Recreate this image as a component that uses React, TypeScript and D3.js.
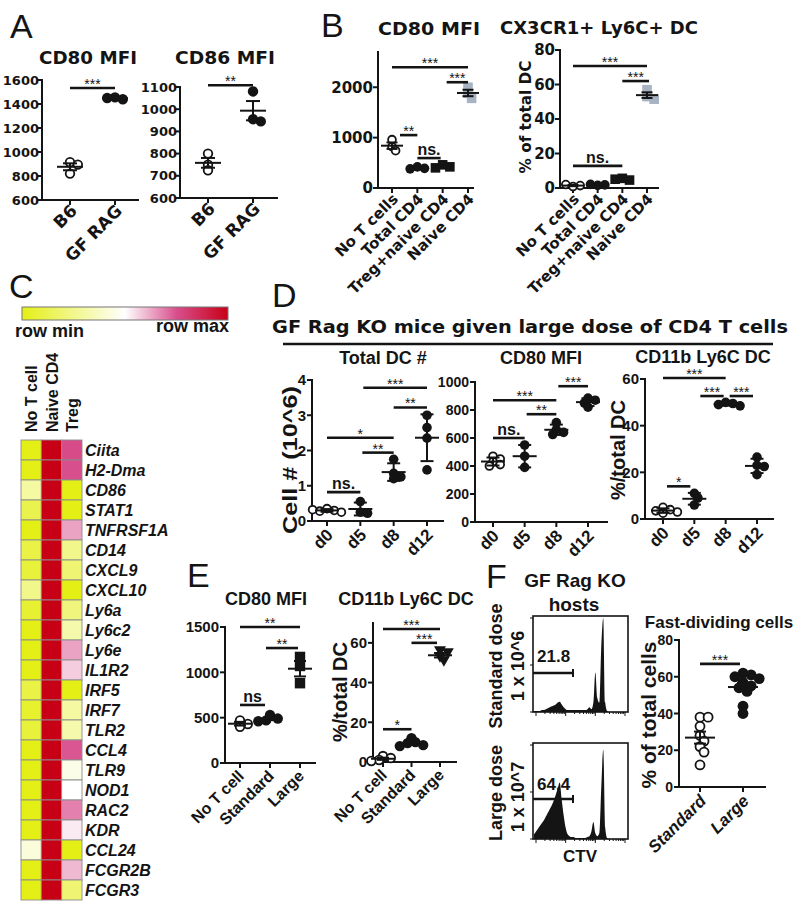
import React from "react";
import * as d3 from "d3";

type Sig = [number, number, number, string, number?, number?];
type Marker = "open" | "dot" | "square" | "gray" | "itri";

const DV = "'DejaVu Sans', Verdana, sans-serif";
const LS = "'Liberation Sans', Arial, Helvetica, sans-serif";
const INK = "#141414";
const GRAY = "#a7b3c2";

// ---------------- Panel A ----------------
const aCats = ["B6", "GF RAG"];
const aCd80Values = [[915, 895, 820], [1455, 1440, 1450]];
const aCd80Ticks = [600, 800, 1000, 1200, 1400, 1600];
const aCd80Sig: Sig[] = [[0, 1, 1533, "***"]];
const aCd86Values = [[800, 750, 725], [1080, 955, 945]];
const aCd86Ticks = [600, 700, 800, 900, 1000, 1100];
const aCd86Sig: Sig[] = [[0, 1, 1108, "**"]];

// ---------------- Panel B ----------------
const bCats = ["No T cells", "Total CD4", "Treg+naive CD4", "Naive CD4"];
const bCd80Values = [[960, 820, 740], [420, 390, 380], [460, 420, 400], [2000, 1880, 1780]];
const bCd80Ticks = [0, 1000, 2000];
const bCd80Sig: Sig[] = [[0, 3, 2396, "***"], [2, 3, 2100, "***", 4, 0], [0, 1, 1050, "**", 8, 0], [1, 2, 594, "ns.", 0, -2]];
const bCx3Values = [[0.8, 1.4, 2], [1.5, 1.8, 2.1], [5.6, 4.6, 5.1], [57, 53, 51.5]];
const bCx3Ticks = [0, 20, 40, 60, 80];
const bCx3Sig: Sig[] = [[0, 3, 70.7, "***"], [2, 3, 62, "***", 0, 2], [0, 2, 12.8, "ns."]];

// ---------------- Panel C ----------------
const cColumns = ["No T cell", "Naive CD4", "Treg"];
const cGenes = ["Ciita", "H2-Dma", "CD86", "STAT1", "TNFRSF1A", "CD14", "CXCL9", "CXCL10", "Ly6a", "Ly6c2", "Ly6e", "IL1R2", "IRF5", "IRF7", "TLR2", "CCL4", "TLR9", "NOD1", "RAC2", "KDR", "CCL24", "FCGR2B", "FCGR3"];
const cNoTCell = [0, 0, 0.3, 0.12, 0, 0.1, 0.08, 0.25, 0.06, 0, 0, 0, 0.1, 0.05, 0.08, 0, 0, 0, 0, 0, 0.42, 0, 0];
const cNaiveCD4 = [1, 1, 1, 1, 1, 1, 1, 1, 1, 1, 1, 1, 1, 1, 1, 1, 1, 1, 1, 1, 1, 1, 1];
const cTreg = [0.76, 0.75, 0, 0, 0.63, 0.25, 0.2, 0, 0.22, 0.32, 0.63, 0.57, 0, 0.3, 0.32, 0.74, 0.45, 0.5, 0.68, 0.53, 0, 0.6, 0.2];
const cScaleLabels = ["row min", "row max"];

// ---------------- Panel D ----------------
const dTitle = "GF Rag KO mice given large dose of CD4 T cells";
const dCats = ["d0", "d5", "d8", "d12"];
const dTotalValues = [[0.35, 0.3, 0.28, 0.25, 0.32], [0.55, 0.25, 0.22], [1.75, 1.35, 1.25, 1.2], [3.0, 2.65, 2.35, 1.45]];
const dTotalTicks = [0, 1, 2, 3, 4];
const dTotalSig: Sig[] = [[0, 1, 0.82, "ns."], [0, 2, 2.36, "*"], [1, 2, 1.94, "**", 2, 0], [1, 3, 3.78, "***", 3, 0], [2, 3, 3.22, "**", 0, 0]];
const dCd80Values = [[470, 450, 430, 410, 400], [550, 470, 390], [710, 660, 640, 625], [885, 870, 850, 820]];
const dCd80Ticks = [0, 200, 400, 600, 800, 1000];
const dCd80Sig: Sig[] = [[0, 1, 600, "ns."], [0, 2, 870, "***"], [1, 2, 770, "**", 2, 0], [2, 3, 970, "***", 2, 0]];
const dLy6cValues = [[5, 4, 3.5, 3, 2.5], [11, 9, 6], [50, 49.5, 49, 48.5], [26.5, 23, 22.5, 19]];
const dLy6cTicks = [0, 20, 40, 60];
const dLy6cSig: Sig[] = [[0, 2, 60.4, "***"], [1, 2, 52.7, "***", 6, -2], [2, 3, 52.7, "***", 4, -4], [0, 1, 14, "*", 4, -4]];

// ---------------- Panel E ----------------
const eCats = ["No T cell", "Standard", "Large"];
const eCd80Values = [[470, 430, 400], [530, 490, 470, 460], [1170, 1070, 880]];
const eCd80Ticks = [0, 500, 1000, 1500];
const eCd80Sig: Sig[] = [[0, 2, 1500, "**"], [1, 2, 1268, "**", -4, -2], [0, 1, 640, "ns", 0, -5]];
const eLy6cValues = [[3, 2, 1, 0.5], [12, 10, 9.5, 8.5, 8], [56, 55, 53, 51]];
const eLy6cTicks = [0, 20, 40, 60];
const eLy6cSig: Sig[] = [[0, 2, 67, "***"], [1, 2, 60, "***", 0, -3], [0, 1, 16.5, "*"]];

// ---------------- Panel F ----------------
const fCats = ["Standard", "Large"];
const fValues = [[38, 38, 33, 28, 25, 22, 19, 12], [62, 61, 60, 59, 57, 55, 54, 52, 44, 40]];
const fTicks = [0, 20, 40, 60, 80];
const fSig: Sig[] = [[0, 1, 67, "***", 0, -3]];
const fHistStandard = [
  1, 1, 1, 1, 2, 2, 3, 4, 5, 6,
  7, 8, 10, 11, 8, 5, 3, 2, 2, 2,
  2, 2, 2, 2, 2, 2, 2, 3, 5, 3,
  10, 42, 15, 10, 70, 100, 10, 1, 0, 0,
  0, 0, 0, 0, 0, 0, 0, 0,
];
const fHistLarge = [
  5, 8, 11, 14, 17, 20, 24, 28, 32, 36,
  41, 47, 54, 60, 42, 25, 12, 5, 3, 2,
  2, 1, 1, 1, 1, 1, 1, 2, 3, 8,
  18, 6, 3, 6, 55, 95, 12, 1, 0, 0,
  0, 0, 0, 0, 0, 0, 0, 0,
];
const fGateLabels = ["21.8", "64.4"];

// ---------------- helpers ----------------
function dodge(ys: number[], r: number): number[] {
  const placed: [number, number][] = [];
  return ys.map((py) => {
    const offs = [0];
    for (let i = 1; i < 12; i++) offs.push(i * r * 0.75, -i * r * 0.75);
    let dx = 0;
    for (const o of offs) {
      if (placed.every(([px, qy]) => Math.hypot(px - o, qy - py) >= r * 1.05)) {
        dx = o;
        break;
      }
    }
    placed.push([dx, py]);
    return dx;
  });
}

function MarkerShape({ m, cx, cy, r }: { m: Marker; cx: number; cy: number; r: number }) {
  if (m === "open") return <circle cx={cx} cy={cy} r={r - 0.9} fill="#fff" stroke={INK} strokeWidth={1.8} />;
  if (m === "dot") return <circle cx={cx} cy={cy} r={r} fill={INK} />;
  if (m === "square" || m === "gray")
    return <rect x={cx - r} y={cy - r} width={2 * r} height={2 * r} fill={m === "gray" ? GRAY : INK} />;
  const s = r * 1.15;
  return <path d={`M${cx - s},${cy - s * 0.75}L${cx + s},${cy - s * 0.75}L${cx},${cy + s}Z`} fill={INK} />;
}

interface PlotProps {
  cats: string[];
  values: number[][];
  ticks: number[];
  domain: [number, number];
  axisX: number;
  axisY: number;
  topY: number;
  xEnd: number;
  catRange: [number, number];
  markers: Marker[];
  r: number;
  err: "sd" | "sem";
  sig: Sig[];
  meanW: number;
  capW: number;
  tickFamily: string;
  tickSize: number;
  tickGap?: number;
  labelFamily: string;
  labelSize: number;
  labelItalic?: boolean;
  labelDx?: number;
  labelDy?: number;
}

function DotPlot(p: PlotProps) {
  const y = d3.scaleLinear().domain(p.domain).range([p.axisY, p.topY]);
  const x = d3.scalePoint<string>().domain(p.cats).range(p.catRange);
  const ldx = p.labelDx ?? 7;
  const ldy = p.labelDy ?? 13;
  const gap = p.tickGap ?? 6;
  return (
    <g>
      <line x1={p.axisX} x2={p.axisX} y1={p.axisY} y2={y(p.domain[1])} stroke={INK} strokeWidth={2} strokeLinecap="square" />
      <line x1={p.axisX} x2={p.xEnd} y1={p.axisY} y2={p.axisY} stroke={INK} strokeWidth={2} strokeLinecap="square" />
      {p.ticks.map((t) => (
        <g key={t}>
          <line x1={p.axisX - 5} x2={p.axisX} y1={y(t)} y2={y(t)} stroke={INK} strokeWidth={2} />
          <text x={p.axisX - gap} y={y(t)} dy="0.36em" textAnchor="end" fontFamily={p.tickFamily} fontWeight="bold" fontSize={p.tickSize} fill={INK}>
            {t}
          </text>
        </g>
      ))}
      {p.cats.map((c) => {
        const cx = x(c) as number;
        return (
          <g key={c}>
            <line x1={cx} x2={cx} y1={p.axisY} y2={p.axisY + 5} stroke={INK} strokeWidth={2} />
            <text
              transform={`translate(${cx + ldx},${p.axisY + ldy}) rotate(-45)`}
              textAnchor="end"
              fontFamily={p.labelFamily}
              fontWeight="bold"
              fontStyle={p.labelItalic ? "italic" : "normal"}
              fontSize={p.labelSize}
              fill={INK}
            >
              {c}
            </text>
          </g>
        );
      })}
      {p.values.map((vals, gi) => {
        const cx = x(p.cats[gi]) as number;
        const ys = vals.map((v) => y(v));
        const dxs = dodge(ys, p.r);
        const mean = d3.mean(vals) as number;
        const sd = d3.deviation(vals) as number;
        const e = p.err === "sem" ? sd / Math.sqrt(vals.length) : sd;
        return (
          <g key={gi}>
            {vals.map((v, i) => (
              <MarkerShape key={i} m={p.markers[gi]} cx={cx + dxs[i]} cy={ys[i]} r={p.r} />
            ))}
            <line x1={cx - p.meanW / 2} x2={cx + p.meanW / 2} y1={y(mean)} y2={y(mean)} stroke={INK} strokeWidth={2} />
            <line x1={cx} x2={cx} y1={y(mean - e)} y2={y(mean + e)} stroke={INK} strokeWidth={2} />
            <line x1={cx - p.capW / 2} x2={cx + p.capW / 2} y1={y(mean - e)} y2={y(mean - e)} stroke={INK} strokeWidth={2} />
            <line x1={cx - p.capW / 2} x2={cx + p.capW / 2} y1={y(mean + e)} y2={y(mean + e)} stroke={INK} strokeWidth={2} />
          </g>
        );
      })}
      {p.sig.map((s, k) => {
        const [i, j, v, lab, d1, d2] = s;
        const x1 = (x(p.cats[i]) as number) + (d1 ?? 0);
        const x2 = (x(p.cats[j]) as number) + (d2 ?? 0);
        const yy = y(v);
        const star = lab.includes("*");
        return (
          <g key={k}>
            <line x1={x1} x2={x2} y1={yy} y2={yy} stroke={INK} strokeWidth={2.6} />
            <text
              x={(x1 + x2) / 2}
              y={star ? yy + 1 : yy - 3}
              textAnchor="middle"
              fontFamily={LS}
              fontWeight={star ? "normal" : "bold"}
              fontSize={star ? 14 : 16}
              fill={INK}
            >
              {lab}
            </text>
          </g>
        );
      })}
    </g>
  );
}

function Histogram({ counts, x0, x1, y0, y1, gateY, gateEnd, label, labelY }: {
  counts: number[]; x0: number; x1: number; y0: number; y1: number; gateY: number; gateEnd: number; label: string; labelY: number;
}) {
  const x = d3.scaleLinear().domain([0, counts.length - 1]).range([x0 + 1, x1 - 1]);
  const y = d3.scaleLinear().domain([0, 100]).range([y1, y0 + 2]);
  const area = d3.area<number>().x((_, i) => x(i)).y0(y1).y1((d) => y(d)).curve(d3.curveMonotoneX);
  const ctv = d3.scaleLog().domain([100, 100000]).range([x0 + 3, x1 - 3]);
  const ticks = ctv.ticks();
  return (
    <g>
      <path d={area(counts) || ""} fill={INK} />
      <rect x={x0} y={y0} width={x1 - x0} height={y1 - y0} fill="none" stroke={INK} strokeWidth={1.6} />
      {ticks.map((t, k) => {
        const major = Math.abs(Math.log10(t) - Math.round(Math.log10(t))) < 1e-6;
        return <line key={k} x1={ctv(t)} x2={ctv(t)} y1={y1} y2={y1 + (major ? 4 : 2)} stroke={INK} strokeWidth={1} />;
      })}
      {[0, 50, 100].map((t) => (
        <line key={t} x1={x0 - 3} x2={x0} y1={y(t)} y2={y(t)} stroke={INK} strokeWidth={1} />
      ))}
      <line x1={x0} x2={gateEnd} y1={gateY} y2={gateY} stroke={INK} strokeWidth={2.4} />
      <line x1={gateEnd} x2={gateEnd} y1={gateY - 4} y2={gateY + 4} stroke={INK} strokeWidth={2} />
      <text x={x0 + 4} y={labelY} fontFamily={LS} fontWeight="bold" fontSize={17} fill={INK}>{label}</text>
    </g>
  );
}

function RotLabel({ text, cx, cy, size, family, len }: { text: string; cx: number; cy: number; size: number; family: string; len?: number }) {
  return (
    <text
      transform={`translate(${cx},${cy}) rotate(-90)`}
      textAnchor="middle"
      dy="0.36em"
      fontFamily={family}
      fontWeight="bold"
      fontSize={size}
      fill={INK}
      textLength={len}
      lengthAdjust={len ? "spacingAndGlyphs" : undefined}
    >
      {text}
    </text>
  );
}

function Heatmap() {
  const color = d3.scaleLinear<string>().domain([0, 0.5, 0.75, 1]).range(["#e4ef16", "#ffffff", "#d84f8d", "#c80016"]);
  const xb = d3.scaleBand<string>().domain(cColumns).range([21, 82]);
  const yb = d3.scaleBand<string>().domain(cGenes).range([440, 900]);
  const cols = [cNoTCell, cNaiveCD4, cTreg];
  const stops = d3.range(0, 1.0001, 0.05);
  return (
    <g>
      <defs>
        <linearGradient id="rowgrad" x1="0" x2="1" y1="0" y2="0">
          {stops.map((s) => (
            <stop key={s} offset={s} stopColor={color(s)} />
          ))}
        </linearGradient>
      </defs>
      <rect x={22} y={307} width={206} height={13} fill="url(#rowgrad)" stroke="#777" strokeWidth={1} />
      <text x={15} y={337} fontFamily={LS} fontWeight="bold" fontSize={18} fill={INK}>{cScaleLabels[0]}</text>
      <text x={229} y={332} textAnchor="end" fontFamily={LS} fontWeight="bold" fontSize={18} fill={INK}>{cScaleLabels[1]}</text>
      {cColumns.map((c) => (
        <text
          key={c}
          transform={`translate(${(xb(c) as number) + xb.bandwidth() / 2 + 6},432) rotate(-90)`}
          fontFamily={LS}
          fontWeight="bold"
          fontSize={16}
          fill={INK}
        >
          {c}
        </text>
      ))}
      {cols.map((vals, ci) =>
        vals.map((v, gi) => (
          <rect
            key={`${ci}-${gi}`}
            x={xb(cColumns[ci])}
            y={yb(cGenes[gi])}
            width={xb.bandwidth()}
            height={yb.bandwidth()}
            fill={color(v)}
            stroke="#8c8c8c"
            strokeWidth={0.9}
          />
        ))
      )}
      {cGenes.map((g) => (
        <text
          key={g}
          x={85}
          y={(yb(g) as number) + yb.bandwidth() / 2 + 6}
          fontFamily={LS}
          fontWeight="bold"
          fontStyle="italic"
          fontSize={16}
          fill={INK}
        >
          {g}
        </text>
      ))}
    </g>
  );
}

const letterStyle = { fontFamily: LS, fontSize: 34, fill: INK };

export default function App() {
  const dvCommon = { tickFamily: DV, labelFamily: DV };
  const lsCommon = { tickFamily: LS, labelFamily: LS };
  return (
    <svg width={793} height={904} style={{ position: "absolute", left: 0, top: 0, background: "#fff" }}>
      <rect width={793} height={904} fill="#fff" />
      <text x={10} y={38} {...letterStyle}>A</text>
      <text x={321} y={37} {...letterStyle}>B</text>
      <text x={9} y={298} {...letterStyle}>C</text>
      <text x={272} y={307} {...letterStyle}>D</text>
      <text x={187} y={587} {...letterStyle}>E</text>
      <text x={486} y={588} {...letterStyle}>F</text>

      {/* ---------- A ---------- */}
      <text x={88} y={64} textAnchor="middle" fontFamily={DV} fontWeight="bold" fontSize={17} textLength={98} lengthAdjust="spacingAndGlyphs" fill={INK}>CD80 MFI</text>
      <DotPlot cats={aCats} values={aCd80Values} ticks={aCd80Ticks} domain={[600, 1600]} axisX={42} axisY={200} topY={80} xEnd={138}
        catRange={[70, 115]} markers={["open", "dot"]} r={5.2} err="sem" sig={aCd80Sig} meanW={26} capW={14}
        {...dvCommon} tickSize={13} tickGap={3} labelSize={17} labelDx={8} labelDy={12} />
      <text x={225} y={64} textAnchor="middle" fontFamily={DV} fontWeight="bold" fontSize={17} textLength={100} lengthAdjust="spacingAndGlyphs" fill={INK}>CD86 MFI</text>
      <DotPlot cats={aCats} values={aCd86Values} ticks={aCd86Ticks} domain={[600, 1100]} axisX={180} axisY={198} topY={87} xEnd={277}
        catRange={[208, 253]} markers={["open", "dot"]} r={5.2} err="sem" sig={aCd86Sig} meanW={26} capW={14}
        {...dvCommon} tickSize={13} tickGap={3} labelSize={17} labelDx={8} labelDy={12} />

      {/* ---------- B ---------- */}
      <text x={429} y={35} textAnchor="middle" fontFamily={DV} fontWeight="bold" fontSize={17} textLength={102} lengthAdjust="spacingAndGlyphs" fill={INK}>CD80 MFI</text>
      <DotPlot cats={bCats} values={bCd80Values} ticks={bCd80Ticks} domain={[0, 2700]} axisX={378} axisY={188} topY={52} xEnd={473}
        catRange={[392, 468]} markers={["open", "dot", "square", "gray"]} r={4.8} err="sem" sig={bCd80Sig} meanW={22} capW={11}
        {...dvCommon} tickSize={15} tickGap={5} labelSize={15} labelDx={7} labelDy={12} />
      <text x={599} y={34} textAnchor="middle" fontFamily={DV} fontWeight="bold" fontSize={17} textLength={198} lengthAdjust="spacingAndGlyphs" fill={INK}>CX3CR1+ Ly6C+ DC</text>
      <RotLabel text="% of total DC" cx={525} cy={117} size={16} family={DV} len={113} />
      <DotPlot cats={bCats} values={bCx3Values} ticks={bCx3Ticks} domain={[0, 80]} axisX={560} axisY={188} topY={50} xEnd={658}
        catRange={[573, 647]} markers={["open", "dot", "square", "gray"]} r={4.8} err="sem" sig={bCx3Sig} meanW={22} capW={11}
        {...dvCommon} tickSize={15} tickGap={5} labelSize={15} labelDx={7} labelDy={12} />

      {/* ---------- C ---------- */}
      <Heatmap />

      {/* ---------- D ---------- */}
      <text x={530} y={333} textAnchor="middle" fontFamily={DV} fontWeight="bold" fontSize={17} textLength={516} lengthAdjust="spacingAndGlyphs" fill={INK}>{dTitle}</text>
      <line x1={283} x2={773} y1={344} y2={344} stroke={INK} strokeWidth={2.6} />
      <text x={383} y={364} textAnchor="middle" fontFamily={LS} fontWeight="bold" fontSize={18} fill={INK}>Total DC #</text>
      <text x={541} y={364} textAnchor="middle" fontFamily={LS} fontWeight="bold" fontSize={18} fill={INK}>CD80 MFI</text>
      <text x={703} y={363} textAnchor="middle" fontFamily={LS} fontWeight="bold" fontSize={18} fill={INK}>CD11b Ly6C DC</text>
      <RotLabel text="Cell # (10^6)" cx={290} cy={460} size={20} family={LS} len={148} />
      <RotLabel text="%/total DC" cx={618} cy={450} size={20} family={LS} />
      <DotPlot cats={dCats} values={dTotalValues} ticks={dTotalTicks} domain={[0, 4]} axisX={312} axisY={521} topY={380} xEnd={443}
        catRange={[327, 427]} markers={["open", "dot", "dot", "dot"]} r={4.8} err="sd" sig={dTotalSig} meanW={24} capW={13}
        {...lsCommon} tickSize={15} labelSize={17} labelDx={7} labelDy={15} />
      <DotPlot cats={dCats} values={dCd80Values} ticks={dCd80Ticks} domain={[0, 1000]} axisX={475} axisY={522} topY={382} xEnd={607}
        catRange={[493, 588]} markers={["open", "dot", "dot", "dot"]} r={4.8} err="sd" sig={dCd80Sig} meanW={24} capW={13}
        {...lsCommon} tickSize={14} labelSize={17} labelDx={7} labelDy={15} />
      <DotPlot cats={dCats} values={dLy6cValues} ticks={dLy6cTicks} domain={[0, 60]} axisX={645} axisY={519} topY={379} xEnd={773}
        catRange={[663, 757]} markers={["open", "dot", "dot", "dot"]} r={4.8} err="sd" sig={dLy6cSig} meanW={24} capW={13}
        {...lsCommon} tickSize={15} labelSize={17} labelDx={7} labelDy={15} />

      {/* ---------- E ---------- */}
      <text x={266} y={605} textAnchor="middle" fontFamily={LS} fontWeight="bold" fontSize={18} fill={INK}>CD80 MFI</text>
      <text x={406} y={605} textAnchor="middle" fontFamily={LS} fontWeight="bold" fontSize={18} fill={INK}>CD11b Ly6C DC</text>
      <RotLabel text="%/total DC" cx={340} cy={692} size={20} family={LS} />
      <DotPlot cats={eCats} values={eCd80Values} ticks={eCd80Ticks} domain={[0, 1500]} axisX={225} axisY={763} topY={627} xEnd={315}
        catRange={[240, 300]} markers={["open", "dot", "square"]} r={5.2} err="sem" sig={eCd80Sig} meanW={24} capW={12}
        {...lsCommon} tickSize={15} labelSize={16} labelDx={5} labelDy={14} />
      <DotPlot cats={eCats} values={eLy6cValues} ticks={eLy6cTicks} domain={[0, 70]} axisX={373} axisY={762} topY={623} xEnd={456}
        catRange={[383, 440]} markers={["open", "dot", "itri"]} r={5.2} err="sem" sig={eLy6cSig} meanW={24} capW={12}
        {...lsCommon} tickSize={15} labelSize={16} labelDx={5} labelDy={14} />

      {/* ---------- F ---------- */}
      <text x={575} y={587} textAnchor="middle" fontFamily={LS} fontWeight="bold" fontSize={19} fill={INK}>GF Rag KO</text>
      <text x={574} y={611} textAnchor="middle" fontFamily={LS} fontWeight="bold" fontSize={19} fill={INK}>hosts</text>
      <RotLabel text="Standard dose" cx={496} cy={666} size={18} family={LS} />
      <RotLabel text="1 x 10^6" cx={518} cy={666} size={18} family={LS} />
      <RotLabel text="Large dose" cx={496} cy={793} size={18} family={LS} />
      <RotLabel text="1 x 10^7" cx={518} cy={797} size={18} family={LS} />
      <Histogram counts={fHistStandard} x0={533} x1={628} y0={616} y1={712} gateY={673} gateEnd={573} label={fGateLabels[0]} labelY={662} />
      <Histogram counts={fHistLarge} x0={533} x1={628} y0={743} y1={839} gateY={799} gateEnd={573} label={fGateLabels[1]} labelY={790} />
      <text x={580} y={862} textAnchor="middle" fontFamily={LS} fontWeight="bold" fontSize={17} fill={INK}>CTV</text>
      <text x={719} y={628} textAnchor="middle" fontFamily={LS} fontWeight="bold" fontSize={17} fill={INK}>Fast-dividing cells</text>
      <RotLabel text="% of total cells" cx={648} cy={715} size={21} family={LS} />
      <DotPlot cats={fCats} values={fValues} ticks={fTicks} domain={[0, 80]} axisX={679} axisY={787} topY={640} xEnd={765}
        catRange={[700, 743]} markers={["open", "dot"]} r={5.4} err="sem" sig={fSig} meanW={30} capW={12}
        {...lsCommon} tickSize={14} labelSize={17} labelItalic labelDx={7} labelDy={15} />
    </svg>
  );
}
